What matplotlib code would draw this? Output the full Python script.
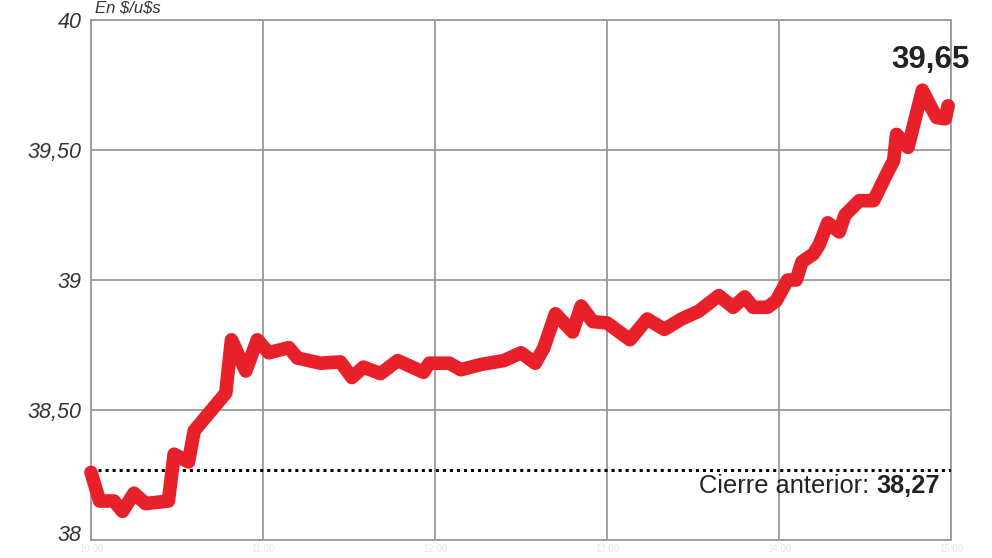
#!/usr/bin/python
# -*- coding: utf-8 -*-

import numpy as np
import matplotlib
matplotlib.use('Agg')
import matplotlib.pyplot as plt
from matplotlib.transforms import ScaledTranslation

plt.rcParams['font.family'] = ['Liberation Sans', 'DejaVu Sans']

# minutos desde la apertura (10:00) y cotización en $/u$s
minutos = [0, 3, 8, 11, 15, 19, 27, 29, 34, 36, 47, 49, 54, 58, 62, 69, 72, 80, 87,
           91, 95, 101, 107, 116, 118, 125, 129, 136, 144, 150, 155, 158, 162, 168,
           171, 175, 180, 188, 194, 200, 206, 212, 219, 224, 228, 231, 236, 239, 243,
           246, 248, 252, 254, 257, 261, 263, 268, 273, 277, 280, 281, 285, 290, 293,
           295, 298, 299]
cotizacion = [38.26, 38.15, 38.15, 38.11, 38.18, 38.14, 38.15, 38.33, 38.30, 38.42,
              38.565, 38.77, 38.65, 38.77, 38.72, 38.74, 38.70, 38.68, 38.685, 38.625,
              38.665, 38.64, 38.69, 38.645, 38.68, 38.68, 38.655, 38.675, 38.69, 38.72,
              38.68, 38.74, 38.87, 38.80, 38.90, 38.84, 38.835, 38.77, 38.85, 38.81,
              38.85, 38.88, 38.94, 38.895, 38.935, 38.895, 38.895, 38.92, 39.0, 39.0,
              39.07, 39.10, 39.135, 39.22, 39.185, 39.25, 39.305, 39.305, 39.395, 39.46,
              39.56, 39.51, 39.73, 39.665, 39.625, 39.62, 39.67]

cierre_anterior = 38.27
ultimo = '39,65'
yticks = [38, 38.5, 39, 39.5, 40]
ytick_labels = ['38', '38,50', '39', '39,50', '40']
xticks = [0, 60, 120, 180, 240, 300]
xtick_labels = ['10:00', '11:00', '12:00', '13:00', '14:00', '15:00']

fig = plt.figure(figsize=(9.92, 5.58), dpi=100)
ax = fig.add_axes([91 / 992, 18 / 558, 860 / 992, 520 / 558])

gris = '#9a9a9a'
ax.set_xlim(0, 300)
ax.set_ylim(38, 40)
ax.set_xticks(xticks)
ax.set_xticklabels(xtick_labels, color='#e6e6e6', fontsize=7)
ax.set_yticks(yticks)
ax.set_yticklabels(ytick_labels, fontstyle='italic', fontsize=15.5, color='#333333')
ax.tick_params(length=0, pad=6.5)
ax.tick_params(axis='x', pad=3)
ax.grid(True, color=gris, linewidth=1.3)
for s in ax.spines.values():
    s.set_color(gris)
    s.set_linewidth(1.3)

# el "38" queda un poco más arriba que la línea de base, como en el original
lab38 = ax.get_yticklabels()[0]
lab38.set_transform(lab38.get_transform() + ScaledTranslation(0, 5 / 72, fig.dpi_scale_trans))

ax.axhline(cierre_anterior, color='black', linestyle=(0, (1, 1.3)), linewidth=2.2, zorder=3)
ax.plot(minutos, cotizacion, color='#e8202a', linewidth=9.8,
        solid_joinstyle='round', solid_capstyle='round', zorder=4, clip_on=False)

ax.text(293, 39.846, ultimo, fontsize=22.5, fontweight='bold', color='#222222',
        ha='center', va='center', clip_on=False)
t_val = ax.text(296, 38.208, '38,27', fontsize=18.3, fontweight='bold', color='#222222',
                ha='right', va='center')
fig.canvas.draw()
bb = t_val.get_window_extent()
fig.text(bb.x0 / fig.bbox.width, bb.y0 / fig.bbox.height, 'Cierre anterior: ',
         fontsize=18.3, color='#222222', ha='right', va='bottom')

fig.text(95 / 992, 1.0, r'En \$/u\$s', fontsize=12, fontstyle='italic', color='#333333',
         ha='left', va='top')

fig.savefig('out.png', dpi=100)
